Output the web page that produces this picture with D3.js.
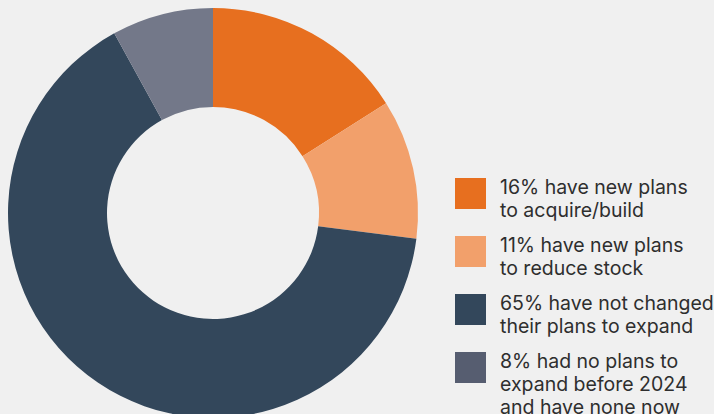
<!DOCTYPE html>
<html>
<head>
<meta charset="utf-8">
<script src="https://cdn.jsdelivr.net/npm/d3@7"></script>
<style>
  html, body { margin: 0; padding: 0; background: #f0f0f0; }
  svg { display: block; }
  text { font-family: Inter, "Noto Sans", sans-serif; fill: #2e2e2e; }
</style>
</head>
<body>
<svg id="chart" width="714" height="414"></svg>
<script>
// Shares of respondents by change in expansion plans (percent)
const categories = ["acquire", "reduce", "unchanged", "none"];
const values = [16, 11, 65, 8];
const sliceColors = ["#e76f1f", "#f2a06b", "#33475b", "#737889"];
const swatchColors = ["#e76f1f", "#f2a06b", "#33475b", "#565d70"];
const legendLines = [
  ["16% have new plans", "to acquire/build"],
  ["11% have new plans", "to reduce stock"],
  ["65% have not changed", "their plans to expand"],
  ["8% had no plans to", "expand before 2024", "and have none now"]
];

const svg = d3.select("#chart");
const cx = 213, cy = 213, outerR = 205, innerR = 106;

const pie = d3.pie().sort(null).value(d => d.value);
const arc = d3.arc().innerRadius(innerR).outerRadius(outerR);
const data = categories.map((c, i) => ({ key: c, value: values[i], i }));

svg.append("g")
  .attr("transform", `translate(${cx},${cy})`)
  .selectAll("path")
  .data(pie(data))
  .join("path")
  .attr("d", arc)
  .attr("fill", d => sliceColors[d.data.i]);

// Legend
const legend = svg.append("g").attr("transform", "translate(455,178)");
const item = legend.selectAll("g")
  .data(legendLines)
  .join("g")
  .attr("transform", (d, i) => `translate(0,${i * 58})`);

item.append("rect")
  .attr("width", 31).attr("height", 31)
  .attr("fill", (d, i) => swatchColors[i]);

item.append("text")
  .attr("x", 45)
  .attr("y", 16)
  .style("font-size", "19.5px")
  .selectAll("tspan")
  .data(d => d)
  .join("tspan")
  .attr("x", 45)
  .attr("dy", (d, j) => j === 0 ? 0 : 23)
  .text(d => d);
</script>
</body>
</html>
